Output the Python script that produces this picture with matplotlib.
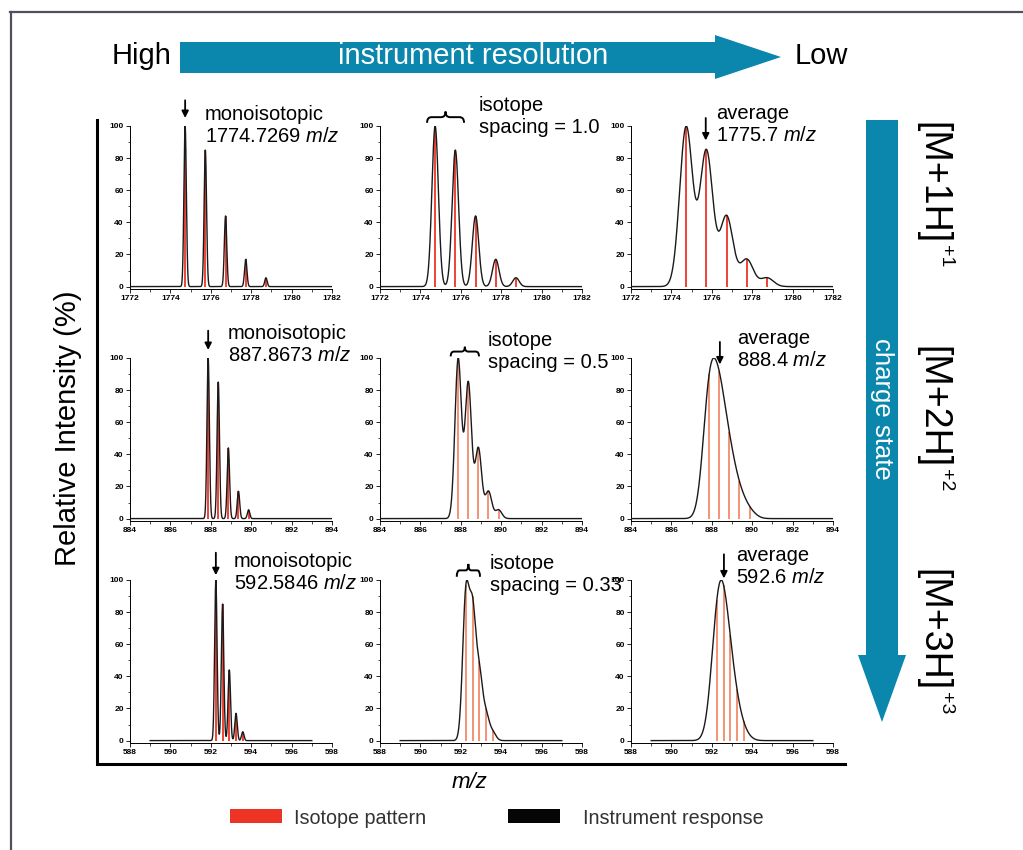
import numpy as np
import matplotlib.pyplot as plt
from matplotlib.patches import Polygon, Rectangle, PathPatch
from matplotlib.path import Path
from matplotlib.lines import Line2D

plt.rcParams['font.family'] = 'Liberation Sans'
plt.rcParams['mathtext.fontset'] = 'custom'
plt.rcParams['mathtext.rm'] = 'Liberation Sans'
plt.rcParams['mathtext.it'] = 'Liberation Sans:italic'

# isotope envelope, relative intensity (%)
iso_rel = [100, 85, 44, 17, 5.5]

# one row per charge state
mono_mz = [1774.73, 887.87, 592.25]
iso_spacing = [1.0, 0.5, 0.333]
x_ranges = [(1772, 1782), (884, 894), (588, 598)]
curve_ranges = [(1772, 1782), (884, 894), (589, 597)]
mono_labels = ['1774.7269', '887.8673', '592.5846']
spacing_labels = ['1.0', '0.5', '0.33']
avg_mz = [1775.7, 888.4, 592.6]
avg_labels = ['1775.7', '888.4', '592.6']
charge_labels = ['[M+1H]', '[M+2H]', '[M+3H]']
charge_sup = ['+1', '+2', '+3']

# one column per resolution, peak sigma in m/z
peak_sigma = [0.06, 0.16, 0.32]

W, H = 1023, 850
TEAL = '#0b86ad'
RED = '#ee3424'

fig = plt.figure(figsize=(W / 100, H / 100), dpi=100)


def fx(x):
    return x / W


def fy(y):
    return 1 - y / H


def brace(ax, x0, x1, y0, y1):
    xm, ym = (x0 + x1) / 2, (y0 + y1) / 2
    q = 0.12 * (x1 - x0)
    verts, codes = [], []
    for xe, s in [(x0, 1), (x1, -1)]:
        verts += [(xe, y0), (xe, ym), (xe + s * q, ym), (xm - s * q, ym), (xm, ym), (xm, y1)]
        codes += [Path.MOVETO, Path.CURVE3, Path.CURVE3, Path.LINETO, Path.CURVE3, Path.CURVE3]
    ax.add_patch(PathPatch(Path(verts, codes), fill=False, lw=1.4, color='k', clip_on=False))


def down_arrow(ax, x, y_tail, y_tip):
    ax.annotate('', xy=(x, y_tip), xytext=(x, y_tail), annotation_clip=False,
                arrowprops=dict(arrowstyle='-|>', color='k', lw=1.3, mutation_scale=10,
                                shrinkA=0, shrinkB=0))


lefts = [130, 380, 631]
tops = [126, 358, 580]
aw, ah = 202, 163

# where each panel's note sits (data x of text, data y of text top)
text_pos = [
    [(1775.7, 113), (1776.9, 118.5), (1776.2, 113.5)],
    [(888.85, 121), (889.35, 117), (889.25, 118)],
    [(593.15, 117.5), (593.45, 116.5), (593.2, 121)],
]
arrow_y = [[(116, 105), None, (105, 91)],
           [(117, 105), None, (110, 96)],
           [(117, 103), None, (116, 101)]]
brace_x = [(1774.33, 1776.16), (887.5, 888.9), (591.8, 592.95)]
brace_y = [(102, 109), (101, 107), (102, 110)]

for r in range(3):
    stick_mz = mono_mz[r] + iso_spacing[r] * np.arange(len(iso_rel))
    lo, hi = curve_ranges[r]
    x = np.linspace(lo, hi, 3000)
    for c in range(3):
        ax = fig.add_axes([fx(lefts[c]), fy(tops[r] + ah), aw / W, ah / H])
        s = peak_sigma[c]
        y = np.zeros_like(x)
        for m, a in zip(stick_mz, iso_rel):
            y += a * np.exp(-(x - m) ** 2 / (2 * s ** 2))
        y = y / y.max() * 100
        top = np.interp(stick_mz, x, y)
        stick_col = RED if (r == 0 or c == 0) else '#f28a6a'
        ax.vlines(stick_mz, 0, top, color=stick_col, lw=1.3, zorder=2)
        ax.plot(x, y, color='#1a1a1a', lw=1.0, zorder=3)

        ax.set_xlim(*x_ranges[r])
        ax.set_ylim(-1.5, 100)
        ax.set_xticks(np.arange(x_ranges[r][0], x_ranges[r][1] + 1, 2))
        ax.set_xticks(np.arange(x_ranges[r][0], x_ranges[r][1] + 1, 1), minor=True)
        ax.set_yticks([0, 20, 40, 60, 80, 100])
        ax.set_yticks(np.arange(0, 101, 10), minor=True)
        ax.tick_params(labelsize=6, width=0.6, length=3, pad=1.5)
        ax.tick_params(which='minor', width=0.5, length=1.8)
        plt.setp(ax.get_xticklabels() + ax.get_yticklabels(), fontweight='bold')
        for sp in ['top', 'right']:
            ax.spines[sp].set_visible(False)
        for sp in ['left', 'bottom']:
            ax.spines[sp].set_linewidth(0.7)
        ax.patch.set_alpha(0)

        tx, ty = text_pos[r][c]
        if c == 0:
            note = 'monoisotopic\n' + mono_labels[r] + ' $\\it{m/z}$'
            down_arrow(ax, mono_mz[r], *arrow_y[r][c])
        elif c == 1:
            note = 'isotope\nspacing = ' + spacing_labels[r]
            brace(ax, *brace_x[r], *brace_y[r])
        else:
            note = 'average\n' + avg_labels[r] + ' $\\it{m/z}$'
            down_arrow(ax, avg_mz[r], *arrow_y[r][c])
        ax.text(tx, ty, note, fontsize=14.5, va='top', ha='left', linespacing=1.2,
                clip_on=False, zorder=5)

# outer frame
fig.add_artist(Line2D([fx(10), fx(1023)], [fy(12), fy(12)], color='#4d515c', lw=1.6))
fig.add_artist(Line2D([fx(11), fx(11)], [fy(12), fy(850)], color='#4d515c', lw=1.6))

# shared axis frame
fig.add_artist(Line2D([fx(97), fx(97), fx(845)], [fy(120), fy(764), fy(764)],
                      color='k', lw=2.2, solid_joinstyle='miter'))

# resolution arrow across the top
top_arrow = [(180, 42), (715, 42), (715, 35), (781, 57), (715, 79), (715, 73), (180, 73)]
fig.add_artist(Polygon([(fx(a), fy(b)) for a, b in top_arrow], closed=True,
                       transform=fig.transFigure, color=TEAL, lw=0))
fig.text(fx(473), fy(56), 'instrument resolution', color='white', fontsize=21,
         ha='center', va='center')
fig.text(fx(172), fy(56), 'High', fontsize=21, ha='right', va='center')
fig.text(fx(795), fy(56), 'Low', fontsize=21, ha='left', va='center')

# charge state arrow down the right side
side_arrow = [(866, 120), (898, 120), (898, 655), (906, 655), (882, 722), (858, 655), (866, 655)]
fig.add_artist(Polygon([(fx(a), fy(b)) for a, b in side_arrow], closed=True,
                       transform=fig.transFigure, color=TEAL, lw=0))
fig.text(fx(882), fy(409), 'charge state', color='white', fontsize=18.5, rotation=-90,
         ha='center', va='center')
for lab, sup, yc in zip(charge_labels, charge_sup, [183, 407, 630]):
    fig.text(fx(932), fy(yc), lab, fontsize=27, rotation=-90, ha='center', va='center')
    fig.text(fx(945), fy(yc + 62), sup, fontsize=14, rotation=-90, ha='center', va='top')

fig.text(fx(68), fy(428), 'Relative Intensity (%)', fontsize=21, rotation=90,
         ha='center', va='center')
fig.text(fx(470), fy(783), 'm/z', fontsize=16, style='italic', ha='center', va='center')

# legend
fig.add_artist(Rectangle((fx(230), fy(823)), 52 / W, 14 / H, transform=fig.transFigure,
                         color=RED, lw=0))
fig.text(fx(294), fy(818), 'Isotope pattern', fontsize=14.2, color='#333333', va='center')
fig.add_artist(Rectangle((fx(508), fy(823)), 52 / W, 14 / H, transform=fig.transFigure,
                         color='#050505', lw=0))
fig.text(fx(583), fy(818), 'Instrument response', fontsize=14.2, color='#333333', va='center')

fig.savefig('out.png', dpi=100)
